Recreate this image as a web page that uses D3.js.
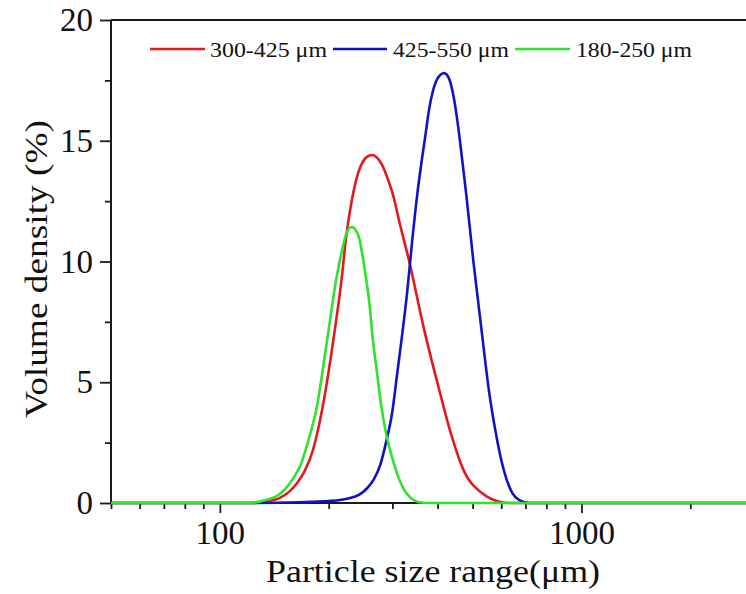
<!DOCTYPE html>
<html>
<head>
<meta charset="utf-8">
<script src="https://cdn.jsdelivr.net/npm/d3@7"></script>
<style>
  html, body { margin: 0; padding: 0; background: #fff; }
  svg { display: block; }
  text { font-family: "Liberation Serif", "Times New Roman", serif; fill: #111; }
</style>
</head>
<body>
<svg id="chart" width="746" height="594"></svg>
<script>
// ---- data ----
const seriesNames = ["300-425 μm", "425-550 μm", "180-250 μm"];
const seriesColors = ["#e3191e", "#1212c4", "#2ee22e"];

const redSizes  = [50, 126, 135, 146, 155, 163, 172, 181, 192, 206, 218, 223, 229, 235, 241, 247, 255, 264, 272, 281, 290, 302, 313, 334, 367, 404, 437, 474, 532, 593, 632, 3000];
const redValues = [0, 0, 0.06, 0.2, 0.45, 0.8, 1.35, 2.2, 3.9, 6.75, 9.5, 10.9, 12.1, 13.0, 13.65, 14.05, 14.33, 14.41, 14.3, 14.0, 13.5, 12.7, 11.7, 10.0, 7.2, 4.7, 2.8, 1.3, 0.4, 0.05, 0, 0];

const blueSizes  = [50, 120, 166, 200, 228, 243, 255, 267, 278, 288, 300, 309, 317, 330, 340, 351, 361, 370, 379, 389, 399, 417, 431, 442, 454, 468, 480, 502, 528, 556, 578, 600, 620, 644, 673, 718, 3000];
const blueValues = [0, 0, 0.03, 0.08, 0.2, 0.35, 0.6, 1.0, 1.6, 2.5, 3.8, 5.3, 6.6, 8.8, 10.8, 12.7, 14.1, 15.2, 16.3, 17.1, 17.55, 17.8, 17.55, 16.9, 15.8, 14.2, 12.8, 10.06, 7.29, 4.55, 3.0, 1.78, 1.0, 0.41, 0.12, 0, 0];

const greenSizes  = [50, 120, 134, 144, 152, 160, 168, 175, 185, 198, 210, 218, 225, 232, 238, 243, 247, 252, 259, 265, 272, 279, 288, 300, 313, 323, 338, 356, 375, 3000];
const greenValues = [0, 0, 0.12, 0.3, 0.6, 1.05, 1.65, 2.5, 3.9, 6.75, 9.3, 10.5, 11.25, 11.43, 11.28, 10.95, 10.4, 9.6, 8.3, 6.75, 5.4, 4.1, 2.9, 1.85, 1.0, 0.55, 0.2, 0.03, 0, 0];

const xMajorTicks = [100, 1000];
const xMinorTicks = [50, 60, 70, 80, 90, 200, 300, 400, 500, 600, 700, 800, 900, 2000, 3000];
const yMajorTicks = [0, 5, 10, 15, 20];
const yMinorTicks = [2.5, 7.5, 12.5, 17.5];

const xTitle = "Particle size range(μm)";
const yTitle = "Volume density (%)";

// ---- layout ----
const svg = d3.select("#chart");
const mLeft = 111, mRight = 754, mTop = 20, mBottom = 503;

const x = d3.scaleLog().domain([50, 3000]).range([mLeft, mRight]);
const y = d3.scaleLinear().domain([0, 20]).range([mBottom, mTop]);

const axisColor = "#1a1a1a";

// x axis
const xAxisG = svg.append("g").attr("transform", `translate(0,${mBottom})`);
xAxisG.call(d3.axisBottom(x).tickValues(xMajorTicks).tickSize(10).tickPadding(8).tickFormat(d3.format("d")))
  .call(g => g.select(".domain").remove());
xAxisG.selectAll(".tick line").attr("stroke", axisColor).attr("stroke-width", 1.8);
xAxisG.selectAll(".tick text").attr("font-size", 33).attr("font-family", '"Liberation Serif", serif').attr("fill", "#111");
const xMinorG = svg.append("g").attr("transform", `translate(0,${mBottom})`);
xMinorG.call(d3.axisBottom(x).tickValues(xMinorTicks).tickSize(6).tickFormat(""))
  .call(g => g.select(".domain").remove());
xMinorG.selectAll(".tick line").attr("stroke", axisColor).attr("stroke-width", 1.8);

// y axis
const yAxisG = svg.append("g").attr("transform", `translate(${mLeft},0)`);
yAxisG.call(d3.axisLeft(y).tickValues(yMajorTicks).tickSize(11).tickPadding(7).tickFormat(d3.format("d")))
  .call(g => g.select(".domain").remove());
yAxisG.selectAll(".tick line").attr("stroke", axisColor).attr("stroke-width", 1.8);
yAxisG.selectAll(".tick text").attr("font-size", 33).attr("font-family", '"Liberation Serif", serif').attr("fill", "#111");
const yMinorG = svg.append("g").attr("transform", `translate(${mLeft},0)`);
yMinorG.call(d3.axisLeft(y).tickValues(yMinorTicks).tickSize(6).tickFormat(""))
  .call(g => g.select(".domain").remove());
yMinorG.selectAll(".tick line").attr("stroke", axisColor).attr("stroke-width", 1.8);

// frame lines: left, bottom, top
svg.append("line").attr("x1", mLeft).attr("x2", mLeft).attr("y1", mTop).attr("y2", mBottom)
  .attr("stroke", axisColor).attr("stroke-width", 2);
svg.append("line").attr("x1", mLeft).attr("x2", mRight).attr("y1", mBottom).attr("y2", mBottom)
  .attr("stroke", axisColor).attr("stroke-width", 2);
svg.append("line").attr("x1", mLeft).attr("x2", mRight).attr("y1", mTop).attr("y2", mTop)
  .attr("stroke", axisColor).attr("stroke-width", 2);

// curves (drawn over the axes)
const series = [
  { sizes: redSizes, values: redValues },
  { sizes: blueSizes, values: blueValues },
  { sizes: greenSizes, values: greenValues }
];
const line = d3.line()
  .x(d => x(d[0]))
  .y(d => y(d[1]))
  .curve(d3.curveMonotoneX);

series.forEach((s, i) => {
  const pts = s.sizes.map((v, j) => [v, s.values[j]]);
  svg.append("path")
    .attr("d", line(pts))
    .attr("fill", "none")
    .attr("stroke", seriesColors[i])
    .attr("stroke-width", 2.6)
    .attr("stroke-linejoin", "round");
});

// axis titles
svg.append("text")
  .attr("x", 266).attr("y", 582)
  .attr("font-size", 32)
  .attr("textLength", 334).attr("lengthAdjust", "spacingAndGlyphs")
  .text(xTitle);

svg.append("text")
  .attr("transform", "translate(47,418) rotate(-90)")
  .attr("x", 0).attr("y", 0)
  .attr("font-size", 32)
  .attr("textLength", 298).attr("lengthAdjust", "spacingAndGlyphs")
  .text(yTitle);

// legend
const legendItems = [
  { x1: 150, x2: 205, tx: 210, tl: 117 },
  { x1: 333, x2: 387, tx: 393, tl: 116 },
  { x1: 515, x2: 570, tx: 576, tl: 116 }
];
const legY = 49;
legendItems.forEach((it, i) => {
  svg.append("line")
    .attr("x1", it.x1).attr("x2", it.x2).attr("y1", legY).attr("y2", legY)
    .attr("stroke", seriesColors[i]).attr("stroke-width", 2.6);
  svg.append("text")
    .attr("x", it.tx).attr("y", 57)
    .attr("font-size", 21)
    .attr("textLength", it.tl).attr("lengthAdjust", "spacingAndGlyphs")
    .text(seriesNames[i]);
});
</script>
</body>
</html>
